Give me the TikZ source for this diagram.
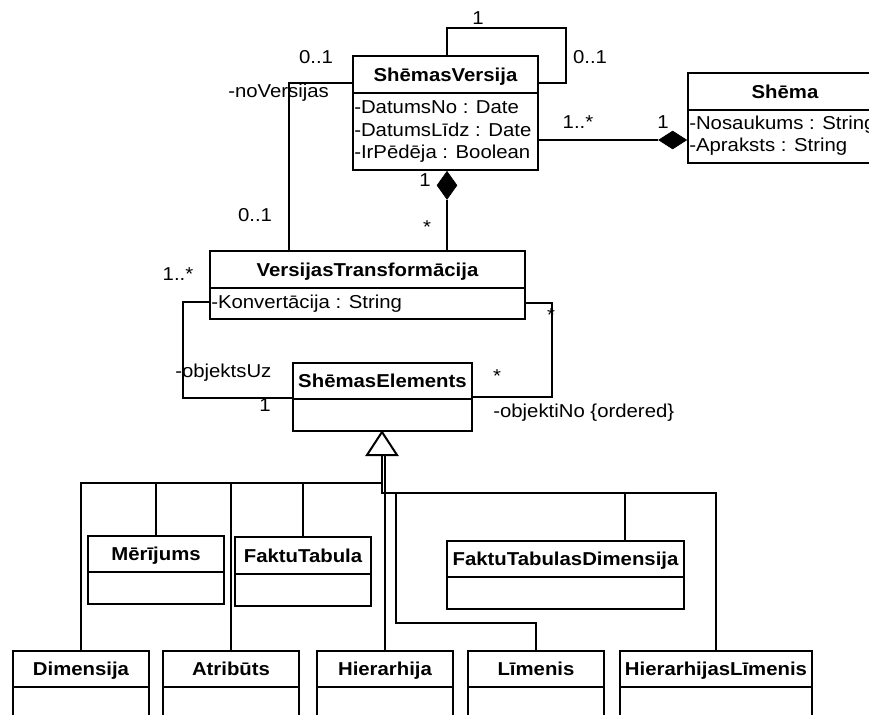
\documentclass[tikz,border=0pt]{standalone}
\usepackage{fontspec}
\setmainfont{Liberation Sans}[FakeStretch=1.09]
\usetikzlibrary{fit,calc,shapes.geometric}

\tikzset{
  classframe/.style={draw, line width=1.5pt, inner sep=0pt, fill=white},
  umltitle/.style={font=\fontsize{14}{16}\selectfont\bfseries, inner sep=0pt,
                   text height=10pt, text depth=0pt},
  umlattr/.style={font=\fontsize{14}{16}\selectfont, inner sep=0pt,
                  text height=10pt, text depth=0pt, anchor=west},
  mult/.style={font=\fontsize{14}{16}\selectfont, inner sep=0pt,
               text height=10pt, text depth=0pt},
  link/.style={line width=0.8pt},
  composition/.style={diamond, fill=black, draw=black, line width=0.5pt, inner sep=0pt},
  genhead/.style={line width=1.5pt, fill=white},
}

% #1 name, #2 left, #3 top, #4 right, #5 divider, #6 bottom, #7 title
\newcommand\umlclass[7]{%
  \node[classframe, fit={(#2,#3) (#4,#6)}] (#1) {};
  \draw[line width=1.5pt] (#1.west |- 0,#5) -- (#1.east |- 0,#5);
  \node[umltitle] (#1-title) at ($(#2,#3)!0.5!(#4,#5)$) {#7};
}

\begin{document}
\begin{tikzpicture}[x=0.75pt,y=-0.75pt]
\useasboundingbox (0,0) rectangle (869,715);
\fill[white] (0,0) rectangle (869,715);
\clip (0,0) rectangle (869,715);

% ---- classes ----
\umlclass{sv}{353}{56}{538}{93}{170}{ShēmasVersija}
\node[umlattr] (sv-a1) at (354,107) {-DatumsNo : Date};
\node[umlattr] (sv-a2) at (354,129.5) {-DatumsLīdz : Date};
\node[umlattr] (sv-a3) at (354,152) {-IrPēdēja : Boolean};

\umlclass{sh}{688}{73}{882}{110}{163}{Shēma}
\node[umlattr] (sh-a1) at (689,123) {-Nosaukums : String};
\node[umlattr] (sh-a2) at (689,145) {-Apraksts : String};

\umlclass{vt}{210}{251}{525}{288}{319}{VersijasTransformācija}
\node[umlattr] (vt-a1) at (211,301.5) {-Konvertācija : String};

\umlclass{se}{293}{363}{472}{399}{431}{ShēmasElements}

\umlclass{mer}{88}{536}{224}{572}{604}{Mērījums}
\umlclass{ft}{235}{537}{371}{574}{606}{FaktuTabula}
\umlclass{ftd}{447}{541}{684}{577}{609}{FaktuTabulasDimensija}

\umlclass{dim}{13}{651}{149}{687}{740}{Dimensija}
\umlclass{atr}{163}{651}{299}{687}{740}{Atribūts}
\umlclass{hie}{317}{651}{453}{687}{740}{Hierarhija}
\umlclass{lim}{468}{651}{604}{687}{740}{Līmenis}
\umlclass{hl}{620}{651}{812}{687}{740}{HierarhijasLīmenis}

% ---- associations ----
% reflexive association of ShēmasVersija
\draw[link] (sv.north -| 447,0) |- (566,28) |- (sv.east |- 0,83);
\node[mult] (loop-m1) at (478,18) {1};
\node[mult] (loop-m2) at (590,57) {0..1};

% noVersijas
\draw[link] (sv.west |- 0,83) -| (vt.north -| 289,0);
\node[mult] (nv-m1) at (316,57) {0..1};
\node[umlattr] (nv-role) at (228,91) {-noVersijas};
\node[mult] (nv-m2) at (255,215) {0..1};

% ShēmasVersija -- Shēma (composition)
\node[composition, minimum width=21pt, minimum height=13.5pt, anchor=east]
  (shdia) at (sh.west |- 0,140) {};
\draw[link] (sv.east |- 0,140) -- (shdia.west);
\node[mult] (svsh-m1) at (578,122) {1..*};
\node[mult] (svsh-m2) at (663,122) {1};

% ShēmasVersija -- VersijasTransformācija (composition)
\node[composition, minimum width=15pt, minimum height=21pt, anchor=north]
  (vtdia) at (sv.south -| 447,0) {};
\draw[link] (vtdia.south) -- (vt.north -| 447,0);
\node[mult] (svvt-m1) at (425,180) {1};
\node[mult] (svvt-m2) at (427,227) {*};

% objektsUz
\draw[link] (vt.west |- 0,302) -| (183,398) -- (se.west |- 0,398);
\node[mult] (ou-m1) at (178,274) {1..*};
\node[umlattr] (ou-role) at (175,371) {-objektsUz};
\node[mult] (ou-m2) at (265,405) {1};

% objektiNo
\draw[link] (vt.east |- 0,303) -| (552,397) -- (se.east |- 0,397);
\node[mult] (on-m1) at (551,315) {*};
\node[mult] (on-m2) at (497,376) {*};
\node[umlattr] (on-role) at (493,411) {-objektiNo \{ordered\}};

% ---- generalization ----
\coordinate (tip) at (se.south -| 382,0);
\draw[genhead] (tip) -- ++(-15,23) -- ++(30,0) -- cycle;
\coordinate (hub) at (382,454);
\draw[link, line width=1.5pt] (hub) -- (382,493);
\draw[link] (hub) -- (382,483) -| (dim.north);
\draw[link] (hub) -- (382,483) -| (mer.north);
\draw[link] (hub) -- (382,483) -| (atr.north);
\draw[link] (hub) -- (382,483) -| (ft.north);
\draw[link] (hie.north |- hub) -- (hie.north);
\draw[link] (hub) -- (382,493) -| (396,623) -| (lim.north);
\draw[link] (hub) -- (382,493) -| (ftd.north -| 625,0);
\draw[link] (hub) -- (382,493) -| (hl.north);
\end{tikzpicture}
\end{document}
